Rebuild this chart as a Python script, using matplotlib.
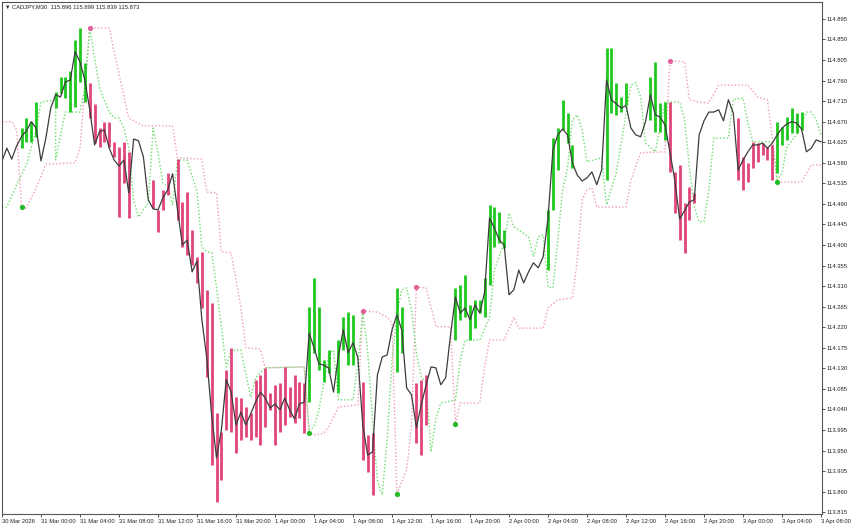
import numpy as np
import matplotlib.pyplot as plt

plt.rcParams['font.family'] = ['Liberation Sans', 'DejaVu Sans']

# CADJPY M30 closes, one per bar from 30 Mar 20:00 to 3 Apr 08:00
close = [114.584, 114.612, 114.588, 114.617, 114.637, 114.650, 114.670, 114.656, 114.584, 114.634,
         114.700, 114.729, 114.724, 114.757, 114.761, 114.823, 114.801, 114.761, 114.696, 114.619,
         114.648, 114.652, 114.612, 114.586, 114.573, 114.586, 114.514, 114.632, 114.628, 114.593,
         114.499, 114.479, 114.477, 114.503, 114.521, 114.556, 114.477, 114.400, 114.411, 114.341,
         114.365, 114.236, 114.153, 114.028, 113.934, 113.995, 114.105, 114.078, 114.006, 114.034,
         114.006, 114.030, 114.056, 114.078, 114.065, 114.043, 114.052, 114.039, 114.065, 114.039,
         114.019, 114.052, 114.056, 114.207, 114.175, 114.140, 114.137, 114.131, 114.078, 114.157,
         114.214, 114.164, 114.186, 114.153, 114.006, 113.940, 113.947, 114.115, 114.155, 114.159,
         114.214, 114.247, 114.214, 114.087, 114.072, 114.000, 114.050, 114.094, 114.133, 114.131,
         114.094, 114.109, 114.203, 114.286, 114.251, 114.262, 114.236, 114.269, 114.251, 114.297,
         114.459, 114.437, 114.411, 114.400, 114.291, 114.302, 114.345, 114.317, 114.341, 114.361,
         114.350, 114.374, 114.459, 114.608, 114.641, 114.654, 114.641, 114.580, 114.553, 114.540,
         114.547, 114.560, 114.532, 114.564, 114.761, 114.718, 114.709, 114.700, 114.705, 114.656,
         114.641, 114.637, 114.670, 114.729, 114.685, 114.680, 114.663, 114.604, 114.542, 114.457,
         114.475, 114.494, 114.499, 114.641, 114.672, 114.691, 114.691, 114.696, 114.672, 114.718,
         114.689, 114.564, 114.586, 114.604, 114.619, 114.619, 114.623, 114.612, 114.623, 114.641,
         114.656, 114.665, 114.670, 114.667, 114.654, 114.604, 114.612, 114.630, 114.626]

# bars drawn by the indicator (high-low), bullish
up_idx = [4, 5, 6, 7, 11, 12, 13, 14, 15, 16, 17,
          63, 64, 65, 66, 67, 69, 70, 71, 72, 81, 82,
          93, 94, 95, 96, 97, 98, 99, 100, 101, 102, 103,
          112, 113, 114, 115, 116, 117, 124, 125, 126, 127, 128,
          133, 134, 135, 136, 159, 160, 161, 162, 163, 164]
up_hi = [114.656, 114.678, 114.670, 114.713, 114.735, 114.768, 114.768, 114.781, 114.849, 114.875, 114.799,
         114.264, 114.328, 114.264, 114.148, 114.170, 114.192, 114.243, 114.253, 114.247, 114.306, 114.264,
         114.306, 114.313, 114.334, 114.269, 114.280, 114.280, 114.328, 114.488, 114.483, 114.472, 114.433,
         114.477, 114.634, 114.656, 114.718, 114.689, 114.619, 114.832, 114.832, 114.755, 114.724, 114.755,
         114.768, 114.801, 114.711, 114.713, 114.670, 114.659, 114.680, 114.700, 114.689, 114.691]
up_lo = [114.612, 114.626, 114.626, 114.637, 114.700, 114.733, 114.722, 114.691, 114.702, 114.757, 114.713,
         114.056, 114.164, 114.126, 114.100, 114.120, 114.076, 114.170, 114.137, 114.137, 114.122, 114.164,
         114.192, 114.236, 114.243, 114.192, 114.218, 114.251, 114.243, 114.313, 114.396, 114.405, 114.394,
         114.345, 114.477, 114.564, 114.652, 114.623, 114.569, 114.542, 114.689, 114.685, 114.691, 114.707,
         114.674, 114.648, 114.648, 114.630, 114.558, 114.619, 114.630, 114.645, 114.645, 114.652]

# bearish bars
dn_idx = [18, 19, 20, 21, 22, 23, 24, 25, 26,
          31, 32, 33, 34, 36, 37, 38, 39, 40, 41, 42, 43, 44, 45, 46, 47, 48, 49, 50,
          51, 52, 53, 54, 55, 56, 57, 58, 59, 60, 61, 62,
          74, 75, 76, 85, 86, 87,
          137, 138, 139, 140, 141, 142, 151, 152, 153, 154, 155, 156, 157, 158]
dn_hi = [114.755, 114.709, 114.656, 114.670, 114.670, 114.626, 114.615, 114.626, 114.604,
         114.542, 114.477, 114.521, 114.558, 114.588, 114.494, 114.516, 114.433, 114.374, 114.385,
         114.302, 114.273, 114.032, 113.991, 114.126, 114.175, 114.067, 114.065, 114.045,
         114.032, 114.105, 114.115, 114.131, 114.076, 114.094, 114.098, 114.133, 114.089, 114.115, 114.100, 114.098,
         114.100, 113.984, 113.988, 114.098, 114.105, 114.115,
         114.713, 114.560, 114.575, 114.492, 114.527, 114.514, 114.678, 114.593, 114.580, 114.626,
         114.623, 114.623, 114.615, 114.619]
dn_lo = [114.678, 114.623, 114.615, 114.626, 114.615, 114.593, 114.461, 114.536, 114.459,
         114.481, 114.429, 114.477, 114.510, 114.455, 114.396, 114.378, 114.356, 114.317, 114.262,
         114.111, 113.918, 113.837, 113.885, 113.995, 113.991, 113.945, 113.973, 113.979,
         113.973, 113.979, 113.962, 114.001, 114.039, 113.962, 113.991, 114.006, 114.023, 114.010, 114.021, 113.988,
         113.929, 113.903, 113.853, 113.966, 113.940, 114.006,
         114.560, 114.470, 114.411, 114.383, 114.455, 114.492, 114.542, 114.521, 114.538, 114.569,
         114.582, 114.597, 114.586, 114.542]

# slow trailing stop (pink dotted)
stop_idx = [0, 2, 3, 4, 5, 7, 9, 15, 16, 18, 22, 23, 26, 29, 35, 36, 41, 42, 44, 45, 47, 49, 50, 53, 54,
            62, 63, 64, 66, 67, 69, 73, 74, 77, 79, 80, 81, 83, 84, 85, 87, 88, 89, 92, 93, 94, 98, 99,
            100, 103, 105, 106, 111, 112, 114, 117, 118, 119, 120, 121, 122, 128, 129, 131, 136, 137,
            140, 141, 143, 145, 147, 153, 155, 157, 158, 159, 164, 166, 168]
stop_val = [114.670, 114.670, 114.652, 114.483, 114.481, 114.525, 114.577, 114.580, 114.612, 114.875,
            114.875, 114.823, 114.678, 114.661, 114.661, 114.591, 114.588, 114.516, 114.514, 114.385,
            114.383, 114.264, 114.175, 114.172, 114.131, 114.133, 113.988, 113.984, 113.988, 114.002,
            114.045, 114.050, 114.256, 114.253, 114.242, 114.229, 113.855, 113.907, 114.006, 114.308,
            114.306, 114.264, 114.221, 114.221, 114.008, 114.054, 114.054, 114.133, 114.192, 114.192,
            114.242, 114.218, 114.218, 114.262, 114.280, 114.284, 114.367, 114.499, 114.521, 114.525,
            114.483, 114.483, 114.542, 114.602, 114.604, 114.803, 114.801, 114.718, 114.713, 114.711,
            114.750, 114.750, 114.724, 114.718, 114.634, 114.538, 114.538, 114.575, 114.575]

# fast line (green dotted)
fast_idx = [0, 1, 3, 5, 7, 8, 11, 11, 12, 13, 16, 17, 18, 19, 20, 22, 23, 24, 25, 26, 27, 28, 29, 30,
            31, 32, 33, 34, 35, 36, 38, 40, 41, 42, 43, 44, 46, 47, 49, 51, 52, 54, 62, 63, 64, 65,
            66, 67, 68, 69, 72, 73, 74, 75, 76, 77, 78, 79, 80, 81, 82, 83, 84, 85, 86, 87, 88, 89,
            90, 91, 93, 94, 95, 98, 100, 101, 103, 104, 105, 108, 109, 110, 111, 112, 113, 114, 115,
            116, 117, 118, 119, 120, 123, 124, 126, 129, 130, 131, 132, 134, 136, 139, 140, 141, 142,
            143, 144, 145, 146, 149, 150, 152, 153, 154, 158, 159, 160, 161, 163, 165, 166, 167, 168]
fast_val = [114.483, 114.483, 114.532, 114.575, 114.652, 114.713, 114.718, 114.586, 114.641, 114.691,
            114.691, 114.746, 114.875, 114.810, 114.744, 114.691, 114.678, 114.678, 114.656, 114.613,
            114.499, 114.461, 114.477, 114.492, 114.656, 114.602, 114.536, 114.527, 114.488, 114.586,
            114.586, 114.516, 114.396, 114.385, 114.383, 114.308, 114.133, 114.170, 114.170, 114.067,
            114.109, 114.131, 114.133, 113.995, 114.002, 114.039, 114.098, 114.159, 114.170, 114.061,
            114.061, 114.142, 114.251, 114.170, 114.017, 113.885, 113.853, 113.973, 114.148, 114.247,
            114.302, 114.306, 114.258, 114.164, 114.111, 114.098, 113.947, 114.021, 114.054, 114.056,
            114.061, 114.148, 114.192, 114.192, 114.242, 114.345, 114.405, 114.470, 114.440, 114.418,
            114.374, 114.418, 114.422, 114.308, 114.306, 114.411, 114.521, 114.569, 114.674, 114.685,
            114.652, 114.582, 114.591, 114.488, 114.558, 114.750, 114.755, 114.724, 114.623, 114.604,
            114.713, 114.713, 114.674, 114.571, 114.483, 114.451, 114.451, 114.521, 114.634, 114.634,
            114.718, 114.722, 114.667, 114.626, 114.626, 114.542, 114.558, 114.615, 114.641, 114.691,
            114.691, 114.674, 114.641]

buy_idx = [4, 63, 81, 93, 159]
buy_val = [114.483, 113.988, 113.855, 114.008, 114.538]
sell_idx = [18, 74, 85, 137]
sell_val = [114.875, 114.256, 114.308, 114.803]

time_labels = ['30 Mar 2026', '31 Mar 00:00', '31 Mar 04:00', '31 Mar 08:00', '31 Mar 12:00',
               '31 Mar 16:00', '31 Mar 20:00', '1 Apr 00:00', '1 Apr 04:00', '1 Apr 08:00',
               '1 Apr 12:00', '1 Apr 16:00', '1 Apr 20:00', '2 Apr 00:00', '2 Apr 04:00',
               '2 Apr 08:00', '2 Apr 12:00', '2 Apr 16:00', '2 Apr 20:00', '3 Apr 00:00',
               '3 Apr 04:00', '3 Apr 08:00']
price_ticks = np.round(np.arange(113.815, 114.9, 0.045), 3)

fig = plt.figure(figsize=(8.52, 5.28), dpi=100)
ax = fig.add_axes([2 / 852, 14 / 528, 820 / 852, 512 / 528])

x = np.arange(len(close))
ax.plot(stop_idx, stop_val, color='#f29ab8', lw=1, ls=(0, (1, 1.5)))
ax.plot(fast_idx, fast_val, color='#6ade6a', lw=1, ls=(0, (1, 1.5)))
ax.vlines(up_idx, up_lo, up_hi, color='#1ec81e', lw=2)
ax.vlines(dn_idx, dn_lo, dn_hi, color='#e0457b', lw=2)
ax.plot(x, close, color='#3c3c3c', lw=0.9)
ax.scatter(buy_idx, buy_val, s=14, color='#22bb22', zorder=5, lw=0)
ax.scatter(sell_idx, sell_val, s=14, color='#e0609a', zorder=5, lw=0)

ax.set_xlim(0, 168.2)
ax.set_ylim(113.811, 114.932)

ax.yaxis.tick_right()
ax.set_yticks(price_ticks)
ax.set_yticklabels(['%.3f' % v for v in price_ticks])
ax.set_xticks(np.arange(0, 169, 8))
ax.set_xticklabels(time_labels)
for lab in ax.get_xticklabels():
    lab.set_ha('left')
ax.tick_params(axis='both', labelsize=4.2, length=2.5, width=0.6, color='#333333',
               labelcolor='#222222', pad=1)
for s in ax.spines.values():
    s.set_color('#555555')
    s.set_linewidth(0.8)

fig.text(5 / 852, 1 - 7 / 528, '\u25bc', fontsize=4, va='center', color='#222222')
fig.text(12 / 852, 1 - 7 / 528, 'CADJPY,M30  115.896 115.899 115.839 115.873', fontsize=4.2,
         va='center', color='#222222')

fig.savefig('out.png', dpi=100)
